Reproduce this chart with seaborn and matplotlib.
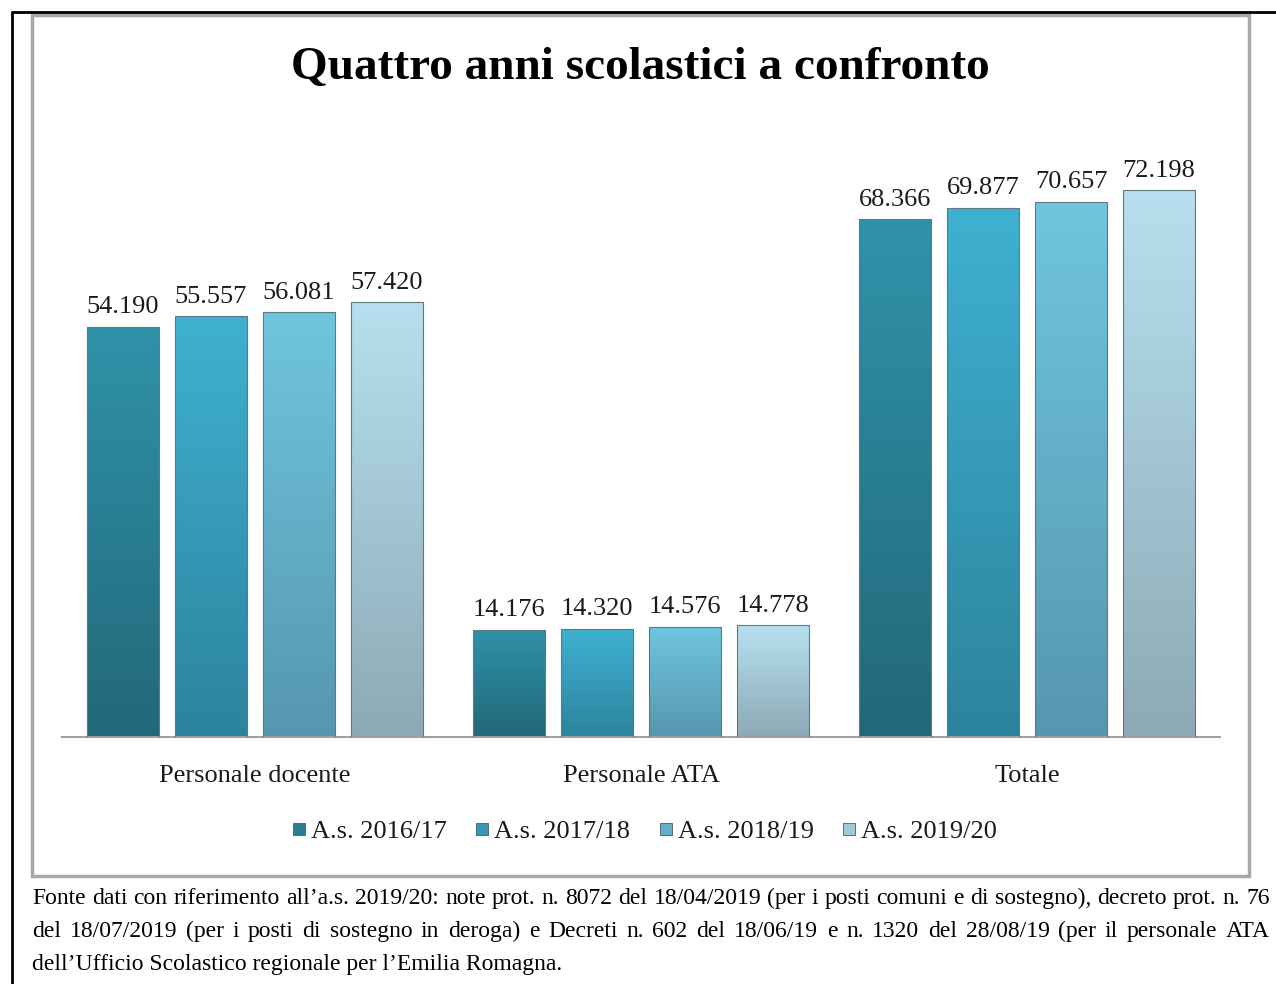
import numpy as np
import pandas as pd
import matplotlib
matplotlib.use('Agg')
import matplotlib.pyplot as plt
import seaborn as sns
from matplotlib.lines import Line2D
from matplotlib.colors import LinearSegmentedColormap

# --- dati ---
categorie = ['Personale docente', 'Personale ATA', 'Totale']
anni = ['A.s. 2016/17', 'A.s. 2017/18', 'A.s. 2018/19', 'A.s. 2019/20']
val_2016_17 = [54190, 14176, 68366]
val_2017_18 = [55557, 14320, 69877]
val_2018_19 = [56081, 14576, 70657]
val_2019_20 = [57420, 14778, 72198]

titolo = 'Quattro anni scolastici a confronto'
fonte = [
    'Fonte dati con riferimento all\u2019a.s. 2019/20: note prot. n. 8072 del 18/04/2019 (per i posti comuni e di sostegno), decreto prot. n. 76',
    'del 18/07/2019 (per i posti di sostegno in deroga) e Decreti n. 602 del 18/06/19 e n. 1320 del 28/08/19 (per il personale ATA',
    'dell\u2019Ufficio Scolastico regionale per l\u2019Emilia Romagna.',
]

colori = ['#2A7F94', '#3399B8', '#62AFC8', '#A3C9D6']
colori_alto = ['#3092AA', '#3FB1D1', '#70C5DF', '#B6E0EF']
colori_basso = ['#226878', '#2C839D', '#5697AE', '#8DA9B5']

righe = []
for anno, valori in zip(anni, [val_2016_17, val_2017_18, val_2018_19, val_2019_20]):
    for cat, v in zip(categorie, valori):
        righe.append({'Categoria': cat, 'Anno': anno, 'Valore': v})
df = pd.DataFrame(righe)

sns.set_style('white')
plt.rcParams['font.family'] = ['Liberation Serif', 'DejaVu Serif']

W, H = 1276, 984
fig = plt.figure(figsize=(W / 100, H / 100), dpi=100)

# cornici
fig.add_artist(Line2D([12 / W, 12 / W], [0, 1 - 12 / H], color='black', lw=2))
fig.add_artist(Line2D([12 / W, 1], [1 - 12 / H, 1 - 12 / H], color='black', lw=2))
fig.add_artist(plt.Rectangle((32 / W, 1 - 876 / H), (1249 - 32) / W, (876 - 15) / H,
                             fill=False, edgecolor='#A8A8A8', lw=2.5))

ax = fig.add_axes([62 / W, 1 - 737 / H, (1220 - 62) / W, (737 - 131) / H])
sns.barplot(data=df, x='Categoria', y='Valore', hue='Anno', palette=colori,
            width=0.912, gap=0.18, ax=ax, legend=False, saturation=1)

ax.set_xlim(-0.5, 2.5)
ax.set_ylim(0, 80000)

# gradiente sulle barre
grad = np.linspace(0, 1, 256).reshape(-1, 1)
for i, cont in enumerate(ax.containers):
    cmap = LinearSegmentedColormap.from_list('g%d' % i, [colori_basso[i], colori_alto[i]])
    for bar in cont:
        x0, y0 = bar.get_x(), bar.get_y()
        w, h = bar.get_width(), bar.get_height()
        im = ax.imshow(grad, extent=[x0, x0 + w, y0, y0 + h], origin='lower',
                       aspect='auto', cmap=cmap, zorder=2)
        im.set_clip_path(bar)
        bar.set_facecolor('none')
        bar.set_edgecolor('#607880')
        bar.set_linewidth(0.8)
        bar.set_zorder(3)
    etichette = [f'{int(v):,}'.replace(',', '.') for v in cont.datavalues]
    ax.bar_label(cont, labels=etichette, padding=6, fontsize=19, color='#1A1A1A')

ax.set_xlim(-0.5, 2.5)
ax.set_ylim(0, 80000)
ax.set_aspect('auto')

ax.set_xlabel('')
ax.set_ylabel('')
ax.set_yticks([])
ax.tick_params(axis='x', length=0, pad=20, labelsize=19, labelcolor='#1A1A1A')
for s in ['left', 'top', 'right']:
    ax.spines[s].set_visible(False)
ax.spines['bottom'].set_color('#A0A0A0')
ax.spines['bottom'].set_linewidth(1.5)
ax.patch.set_alpha(0)

fig.text(640 / W, 1 - 68 / H, titolo, ha='center', va='center',
         fontsize=34, fontweight='bold', color='black')

handles = [Line2D([], [], marker='s', linestyle='none', markersize=9,
                  markerfacecolor=c, markeredgecolor='#4A5A60', markeredgewidth=0.6)
           for c in colori]
fig.legend(handles, anni, loc='center', bbox_to_anchor=(644 / W, 1 - 831 / H),
           ncol=4, frameon=False, fontsize=19, handlelength=0.6,
           handletextpad=0.15, columnspacing=1.05, labelcolor='#1A1A1A')

# nota a piè di pagina, giustificata come nell'originale
renderer = fig.canvas.get_renderer()
x_sx, x_dx = 32, 1270
for k, riga in enumerate(fonte):
    y = 1 - (904 + 33 * k) / H
    parole = riga.split(' ')
    if k == len(fonte) - 1:
        fig.text(x_sx / W, y, riga, ha='left', va='baseline', fontsize=17, color='black')
        continue
    testi = [fig.text(0, y, p, ha='left', va='baseline', fontsize=17, color='black')
             for p in parole]
    larghezze = [t.get_window_extent(renderer).width for t in testi]
    spazio = (x_dx - x_sx - sum(larghezze)) / (len(parole) - 1)
    x = x_sx
    for t, lw_ in zip(testi, larghezze):
        t.set_x(x / W)
        x += lw_ + spazio

fig.savefig('out.png', dpi=100)
